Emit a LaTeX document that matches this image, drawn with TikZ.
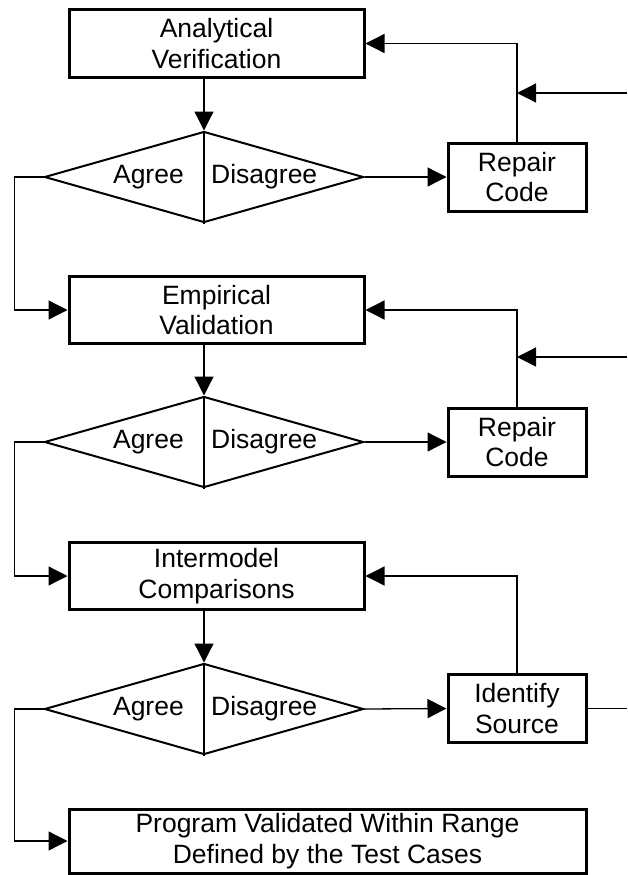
\documentclass[tikz,border=0pt]{standalone}
\usepackage{fontspec}
\setmainfont{Liberation Sans}
\usetikzlibrary{shapes.geometric,arrows.meta,positioning}
\begin{document}
\begin{tikzpicture}[x=1pt,y=-1pt,
    font=\fontsize{26.5}{30.5}\selectfont,
    box/.style={rectangle,draw,line width=3pt,minimum width=295pt,minimum height=67pt,align=center,inner sep=0pt},
    fixbox/.style={box,minimum width=138pt,minimum height=68pt},
    choice/.style={diamond,draw,line width=2pt,minimum width=319pt,minimum height=91pt,inner sep=0pt},
    answer/.style={inner sep=0pt},
    link/.style={line width=1.3pt},
    flow/.style={link,-{Triangle[length=19pt,width=19pt]}}]
  \useasboundingbox (0,0) rectangle (627,875);

  \node[box] (ana) at (216.5,43.5) {Analytical\\Verification};
  \node[choice] (chk1) at (204,177) {};
  \node[answer,left=20pt of chk1.center] (agr1) {Agree};
  \node[answer,right=7pt of chk1.center] (dis1) {Disagree};
  \node[fixbox] (fix1) at (517,177) {Repair\\Code};

  \node[box] (emp) at (216.5,310) {Empirical\\Validation};
  \node[choice] (chk2) at (204,442) {};
  \node[answer,left=20pt of chk2.center] (agr2) {Agree};
  \node[answer,right=7pt of chk2.center] (dis2) {Disagree};
  \node[fixbox] (fix2) at (517,442) {Repair\\Code};

  \node[box] (inter) at (216.5,576) {Intermodel\\Comparisons};
  \node[choice] (chk3) at (204,709) {};
  \node[answer,left=20pt of chk3.center] (agr3) {Agree};
  \node[answer,right=7pt of chk3.center] (dis3) {Disagree};
  \node[fixbox] (ident) at (517,708.5) {Identify\\Source};

  \node[box,minimum width=517pt,minimum height=64pt] (done) at (327.5,841) {Program Validated Within Range\\Defined by the Test Cases};

  \coordinate (in1) at (627,93);
  \coordinate (in2) at (627,357);
  \coordinate (out3) at (627,708.5);

  \draw[line width=2pt] (chk1.north) -- (chk1.south);
  \draw[line width=2pt] (chk2.north) -- (chk2.south);
  \draw[line width=2pt] (chk3.north) -- (chk3.south);

  \draw[flow] (ana.south -| chk1.north) -- (chk1.north);
  \draw[flow] (chk1.east) -- (fix1.west);
  \draw[flow] (fix1.north) |- (ana.east);
  \draw[flow] (in1) -- (in1 -| fix1.north);
  \draw[flow] (chk1.west) -- ++(-29,0) |- (emp.west);

  \draw[flow] (emp.south -| chk2.north) -- (chk2.north);
  \draw[flow] (chk2.east) -- (fix2.west);
  \draw[flow] (fix2.north) |- (emp.east);
  \draw[flow] (in2) -- (in2 -| fix2.north);
  \draw[flow] (chk2.west) -- ++(-29,0) |- (inter.west);

  \draw[flow] (inter.south -| chk3.north) -- (chk3.north);
  \draw[flow] (chk3.east) -- (ident.west);
  \draw[flow] (ident.north) |- (inter.east);
  \draw[link] (ident.east) -- (out3);
  \draw[flow] (chk3.west) -- ++(-29,0) |- (done.west);
\end{tikzpicture}
\end{document}
